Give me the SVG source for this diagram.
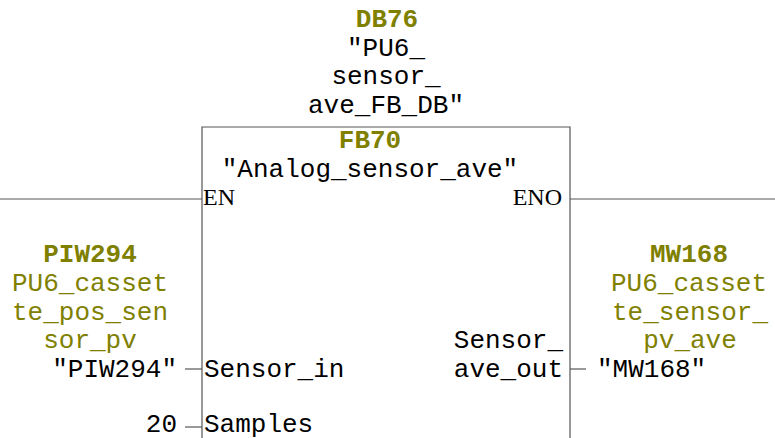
<svg xmlns="http://www.w3.org/2000/svg" width="775" height="438" viewBox="0 0 775 438">
<style>
.m{font-family:"Liberation Mono","Courier New",monospace;font-size:26px;fill:#000}
.o{fill:#808000}
.b{font-weight:bold}
.s{font-family:"Liberation Serif","Times New Roman",serif;font-size:24px;fill:#000}
.w{stroke:#555;stroke-width:1.2;fill:none}
.c{text-anchor:middle}
.e{text-anchor:end}
</style>
<rect width="775" height="438" fill="#fff"/>
<g id="instance-db">
<text class="m o b c" x="387" y="27">DB76</text>
<text class="m c" x="386" y="55.5">"PU6_</text>
<text class="m c" x="386" y="84">sensor_</text>
<text class="m c" x="386" y="112.5">ave_FB_DB"</text>
</g>
<g id="fb70">
<path class="w" d="M202 438V127H570V438"/>
<text class="m o b c" x="370" y="148">FB70</text>
<text class="m c" x="370" y="177">"Analog_sensor_ave"</text>
<text class="s" x="203" y="205">EN</text>
<text class="s e" x="562" y="205">ENO</text>
<text class="m" x="204" y="377">Sensor_in</text>
<text class="m" x="204" y="432">Samples</text>
<text class="m e" x="563" y="348">Sensor_</text>
<text class="m e" x="563" y="377">ave_out</text>
</g>
<g id="input-piw294">
<text class="m o b c" x="90" y="262">PIW294</text>
<text class="m o c" x="90" y="291">PU6_casset</text>
<text class="m o c" x="90" y="319.5">te_pos_sen</text>
<text class="m o c" x="90" y="348">sor_pv</text>
<text class="m e" x="177" y="377">"PIW294"</text>
</g>
<g id="input-samples">
<text class="m e" x="177" y="432">20</text>
</g>
<g id="output-mw168">
<text class="m o b c" x="689" y="262">MW168</text>
<text class="m o c" x="689" y="291">PU6_casset</text>
<text class="m o c" x="690" y="319.5">te_sensor_</text>
<text class="m o c" x="690" y="348">pv_ave</text>
<text class="m" x="597" y="377">"MW168"</text>
</g>
<g id="connectors">
<path class="w" d="M0 199H202"/>
<path class="w" d="M570 199H775"/>
<path class="w" d="M185 369H202"/>
<path class="w" d="M185 427H202"/>
<path class="w" d="M570 369H586"/>
</g>
</svg>
